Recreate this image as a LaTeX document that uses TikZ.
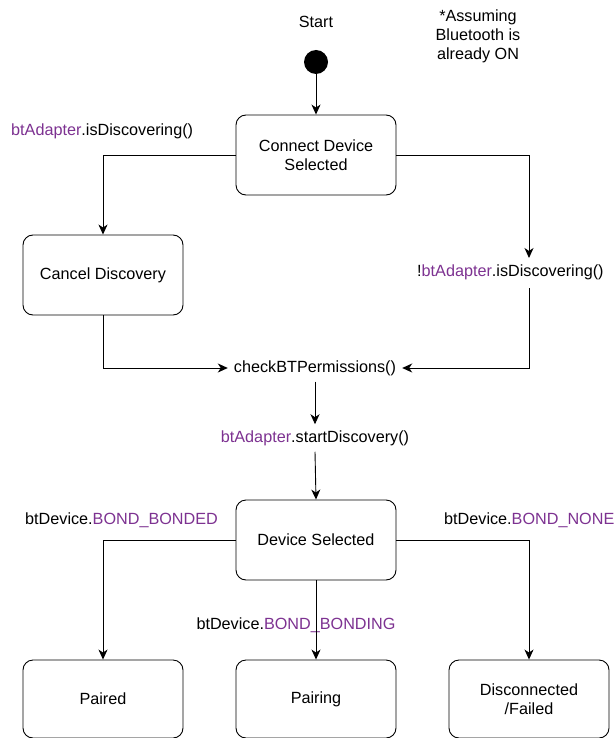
\documentclass[tikz,border=0pt]{standalone}
\usepackage{fontspec}
\setmainfont{Liberation Sans}
\usetikzlibrary{arrows.meta}
\definecolor{apipurple}{RGB}{125,50,145}
\newcommand{\api}[1]{\textcolor{apipurple}{#1}}

\tikzset{
    state/.style={draw, rounded corners=10pt, minimum width=160pt, minimum height=80pt, align=center, line width=0.9pt},
    lbl/.style={inner sep=6pt, align=center},
    flow/.style={-{Stealth[length=10pt, width=9pt, inset=3pt]}, line width=0.9pt}
}

\begin{document}
\begin{tikzpicture}[x=1pt, y=-1pt, font=\fontsize{16.2}{19}\selectfont]
    \useasboundingbox (0,0) rectangle (614,738);

    % Start point and the note
    \node (startlbl) at (316,22) {Start};
    \node[circle, fill=black, minimum size=24pt, inner sep=0pt] (init) at (316,62) {};
    \node[align=center] (note) at (478,36) {*Assuming\\Bluetooth is\\already ON};

    % States of the discovery part
    \node[state] (connect) at (316,155) {Connect Device\\Selected};
    \node[state] (cancel) at (103,275) {Cancel Discovery};

    % Conditions and calls
    \node[anchor=west, inner sep=0pt] (isdisc) at (11,131) {\api{btAdapter}.isDiscovering()};
    \node[anchor=west, inner sep=0pt] (notdisc) at (417,272) {!\api{btAdapter}.isDiscovering()};
    \coordinate (ndtop) at (529,258);
    \coordinate (ndbot) at (529,288);
    \node[lbl] (check) at (315,368) {checkBTPermissions()};
    \node[lbl] (startdisc) at (315,438) {\api{btAdapter}.startDiscovery()};

    % States of the bonding part
    \node[state] (device) at (316,540) {Device Selected};
    \node[state, minimum height=78pt] (paired) at (103,699) {Paired};
    \node[state, minimum height=78pt] (pairing) at (316,699) {Pairing};
    \node[state, minimum height=78pt] (failed) at (529,699) {Disconnected\\/Failed};

    % Bond state labels
    \node[anchor=west, inner sep=0pt] (bonded) at (25,520) {btDevice.\api{BOND\_BONDED}};
    \node[anchor=west, inner sep=0pt] (none) at (444,520) {btDevice.\api{BOND\_NONE}};
    \node[inner sep=0pt] (bonding) at (296,625) {btDevice.\api{BOND\_BONDING}};

    % Connectors
    \draw[flow] (init) -- (connect);
    \draw[flow] (connect.west) -| (cancel.north);
    \draw[flow] (connect.east) -| (ndtop);
    \draw[flow] (cancel.south) |- (check.west);
    \draw[flow] (ndbot) |- (check.east);
    \draw[flow] (check.south) -- (startdisc.north);
    \draw[flow] (startdisc.south) -- (device.north);
    \draw[flow] (device.west) -| (paired.north);
    \draw[flow] (device.east) -| (failed.north);
    \draw[flow] (device.south) -- (pairing.north);
\end{tikzpicture}
\end{document}
